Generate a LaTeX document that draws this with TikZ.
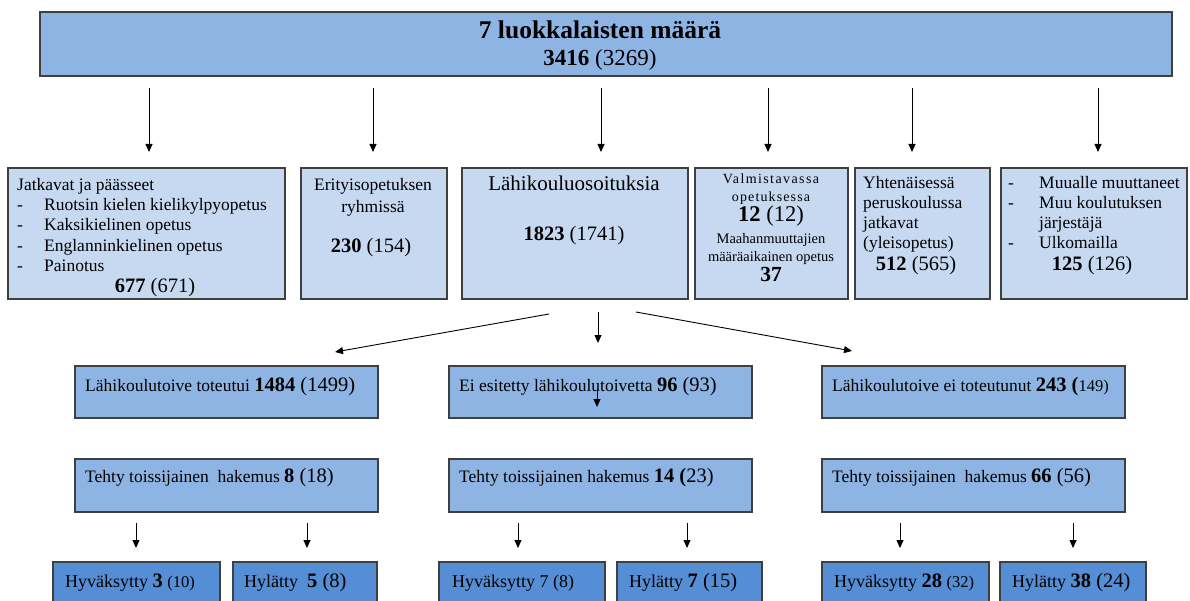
\documentclass[tikz,border=0pt]{standalone}
\usepackage{fontspec}
\setmainfont{Liberation Serif}
\usetikzlibrary{arrows.meta}
\definecolor{topc}{HTML}{8EB4E3}
\definecolor{lightc}{HTML}{C6D9F1}
\definecolor{midc}{HTML}{8EB4E3}
\definecolor{darkc}{HTML}{558ED5}
\definecolor{bordc}{HTML}{3F3F3F}
\newcommand\fsz[1]{\fontsize{#1}{#1}\selectfont}
\newcommand\num[1]{{\fsz{20.5}#1}}
\begin{document}
\begin{tikzpicture}[x=1pt,y=-1pt,
  box/.style={draw=bordc, line width=1.1pt, anchor=north west, inner sep=0pt, outer sep=0pt},
  lbl/.style={inner sep=0pt, anchor=mid west, font=\fsz{17.5}},
  clbl/.style={inner sep=0pt, anchor=mid, font=\fsz{17.5}},
  arr/.style={-{Triangle[length=8pt,width=7pt]}, line width=0.9pt, black},
]
\useasboundingbox (0,0) rectangle (1190,601);
\fill[white] (0,0) rectangle (1190,601);

% top box
\node[box, fill=topc, minimum width=1132pt, minimum height=64pt] (T) at (40,12) {};
\node[clbl, font=\bfseries\fsz{25.5}] (t1) at (600,36) {7 luokkalaisten määrä};
\node[clbl, font=\fsz{23}] (t2) at (600,63) {\textbf{3416} (3269)};

% second row
\node[box, fill=lightc, minimum width=277pt, minimum height=131pt] (A) at (8,168) {};
\node[box, fill=lightc, minimum width=146pt, minimum height=131pt] (B) at (301,168) {};
\node[box, fill=lightc, minimum width=226pt, minimum height=131pt] (C) at (462,168) {};
\node[box, fill=lightc, minimum width=153pt, minimum height=131pt] (D) at (695,168) {};
\node[box, fill=lightc, minimum width=135pt, minimum height=131pt] (E) at (855,168) {};
\node[box, fill=lightc, minimum width=186pt, minimum height=131pt] (F) at (1001,168) {};

% box A text
\node[lbl] (a1) at (17,188) {Jatkavat ja päässeet};
\node[lbl] (a2) at (17,208) {\makebox[27pt][l]{-}Ruotsin kielen kielikylpyopetus};
\node[lbl] (a3) at (17,228) {\makebox[27pt][l]{-}Kaksikielinen opetus};
\node[lbl] (a4) at (17,249) {\makebox[27pt][l]{-}Englanninkielinen opetus};
\node[lbl] (a5) at (17,269) {\makebox[27pt][l]{-}Painotus};
\node[clbl, font=\fsz{20.5}] (a6) at (155,290) {\textbf{677} (671)};

% box B text
\node[clbl] (b1) at (373,188) {Erityisopetuksen};
\node[clbl] (b2) at (373,210) {ryhmissä};
\node[clbl, font=\fsz{20.5}] (b3) at (371,250) {\textbf{230} (154)};

% box C text
\node[clbl, font=\fsz{21}] (c1) at (574,188) {Lähikouluosoituksia};
\node[clbl, font=\fsz{20.5}] (c2) at (574,238) {\textbf{1823} (1741)};

% box D text
\node[clbl, font=\fsz{14}\addfontfeature{LetterSpace=10}] (d1) at (771,181) {Valmistavassa};
\node[clbl, font=\fsz{14}\addfontfeature{LetterSpace=8}] (d2) at (771,199) {opetuksessa};
\node[clbl, font=\fsz{22.5}] (d3) at (771,219) {\textbf{12} (12)};
\node[clbl, font=\fsz{14.5}] (d4) at (771,241) {Maahanmuuttajien};
\node[clbl, font=\fsz{14.5}] (d5) at (771,259) {määräaikainen opetus};
\node[clbl, font=\bfseries\fsz{21.5}] (d6) at (771,279) {37};

% box E text
\node[lbl] (e1) at (863,186) {Yhtenäisessä};
\node[lbl] (e2) at (863,206) {peruskoulussa};
\node[lbl] (e3) at (863,226) {jatkavat};
\node[lbl] (e4) at (863,246) {(yleisopetus)};
\node[clbl, font=\fsz{20.5}] (e5) at (916,268) {\textbf{512} (565)};

% box F text
\node[lbl] (f1) at (1008,186) {\makebox[31pt][l]{-}Muualle muuttaneet};
\node[lbl] (f2) at (1008,206) {\makebox[31pt][l]{-}Muu koulutuksen};
\node[lbl] (f3) at (1008,226) {\makebox[31pt][l]{}järjestäjä};
\node[lbl] (f4) at (1008,246) {\makebox[31pt][l]{-}Ulkomailla};
\node[clbl, font=\fsz{20.5}] (f5) at (1092,268) {\textbf{125} (126)};

% third row
\node[box, fill=midc, minimum width=303pt, minimum height=52pt] (L1) at (75,366) {};
\node[box, fill=midc, minimum width=303pt, minimum height=52pt] (L2) at (449,366) {};
\node[box, fill=midc, minimum width=303pt, minimum height=52pt] (L3) at (822,366) {};
\node[lbl] (l1) at (85,389) {Lähikoulutoive toteutui \num{\textbf{1484} (1499)}};
\node[lbl] (l2) at (459,389) {Ei esitetty lähikoulutoivetta \num{\textbf{96} (93)}};
\node[lbl] (l3) at (832,389) {Lähikoulutoive ei toteutunut \num{\textbf{243 (}}{\fsz{16.5}149)}};

% fourth row
\node[box, fill=midc, minimum width=303pt, minimum height=53pt] (S1) at (75,459) {};
\node[box, fill=midc, minimum width=303pt, minimum height=53pt] (S2) at (449,459) {};
\node[box, fill=midc, minimum width=303pt, minimum height=53pt] (S3) at (822,459) {};
\node[lbl] (s1) at (85,480) {Tehty toissijainen\ \ hakemus \num{\textbf{8} (18)}};
\node[lbl] (s2) at (459,480) {Tehty toissijainen hakemus \num{\textbf{14 (}23)}};
\node[lbl] (s3) at (832,480) {Tehty toissijainen\ \ hakemus \num{\textbf{66} (56)}};

% fifth row
\node[box, fill=darkc, minimum width=167pt, minimum height=48pt] (H1) at (53,562) {};
\node[box, fill=darkc, minimum width=144pt, minimum height=48pt] (H2) at (233,562) {};
\node[box, fill=darkc, minimum width=166pt, minimum height=48pt] (H3) at (439,562) {};
\node[box, fill=darkc, minimum width=145pt, minimum height=48pt] (H4) at (617,562) {};
\node[box, fill=darkc, minimum width=167pt, minimum height=48pt] (H5) at (822,562) {};
\node[box, fill=darkc, minimum width=146pt, minimum height=48pt] (H6) at (1000,562) {};
\node[lbl, font=\fsz{18}] (h1) at (65,585) {Hyväksytty \num{\textbf{3}} {\fsz{16.5}(10)}};
\node[lbl, font=\fsz{18}] (h2) at (244,585) {Hylätty\ \ \num{\textbf{5} (8)}};
\node[lbl, font=\fsz{18}] (h3) at (452,585) {Hyväksytty 7 (8)};
\node[lbl, font=\fsz{18}] (h4) at (629,585) {Hylätty \num{\textbf{7} (15)}};
\node[lbl, font=\fsz{18}] (h5) at (834,585) {Hyväksytty \num{\textbf{28}} {\fsz{16.5}(32)}};
\node[lbl, font=\fsz{18}] (h6) at (1012,585) {Hylätty \num{\textbf{38} (24)}};

% arrow x positions
\coordinate (x1) at (149,0);
\coordinate (x2) at (373,0);
\coordinate (x3) at (601,0);
\coordinate (x4) at (768,0);
\coordinate (x5) at (912,0);
\coordinate (x6) at (1098,0);
\draw[arr, shorten <=12pt, shorten >=16pt] (T.south -| x1) -- (A.north -| x1);
\draw[arr, shorten <=12pt, shorten >=16pt] (T.south -| x2) -- (B.north -| x2);
\draw[arr, shorten <=12pt, shorten >=16pt] (T.south -| x3) -- (C.north -| x3);
\draw[arr, shorten <=12pt, shorten >=16pt] (T.south -| x4) -- (D.north -| x4);
\draw[arr, shorten <=12pt, shorten >=16pt] (T.south -| x5) -- (E.north -| x5);
\draw[arr, shorten <=12pt, shorten >=16pt] (T.south -| x6) -- (F.north -| x6);

% arrows from C to third row
\coordinate (p1) at (549,314);
\coordinate (q1) at (335,352);
\coordinate (p2) at (598,312);
\coordinate (q2) at (598,343);
\coordinate (p3) at (636,312);
\coordinate (q3) at (852,351);
\draw[arr] (p1) -- (q1);
\draw[arr] (p2) -- (q2);
\draw[arr] (p3) -- (q3);

% stray arrow inside middle box
\coordinate (m1) at (597,389);
\coordinate (m2) at (597,407);
\draw[arr] (m1) -- (m2);

% arrows fourth to fifth row
\coordinate (y1) at (136,0);
\coordinate (y2) at (307,0);
\coordinate (y3) at (518,0);
\coordinate (y4) at (687,0);
\coordinate (y5) at (900,0);
\coordinate (y6) at (1073,0);
\draw[arr, shorten <=11pt, shorten >=14pt] (S1.south -| y1) -- (H1.north -| y1);
\draw[arr, shorten <=11pt, shorten >=14pt] (S1.south -| y2) -- (H2.north -| y2);
\draw[arr, shorten <=11pt, shorten >=14pt] (S2.south -| y3) -- (H3.north -| y3);
\draw[arr, shorten <=11pt, shorten >=14pt] (S2.south -| y4) -- (H4.north -| y4);
\draw[arr, shorten <=11pt, shorten >=14pt] (S3.south -| y5) -- (H5.north -| y5);
\draw[arr, shorten <=11pt, shorten >=14pt] (S3.south -| y6) -- (H6.north -| y6);
\end{tikzpicture}
\end{document}
